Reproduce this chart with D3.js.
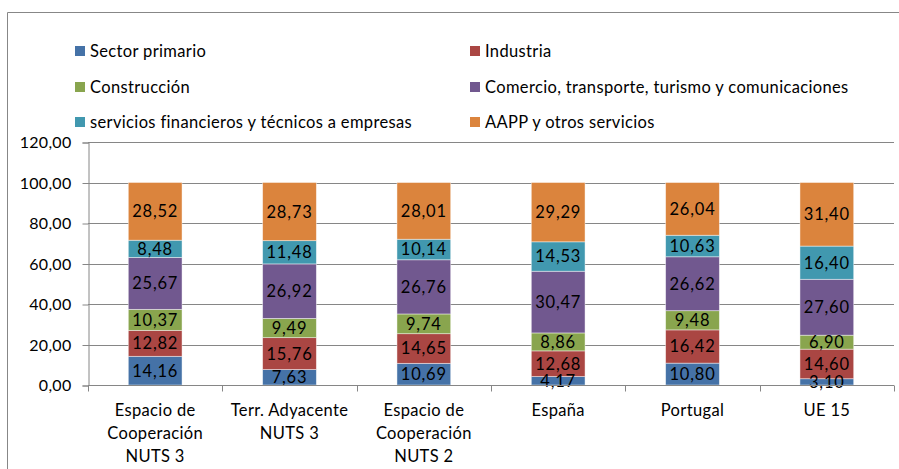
<!DOCTYPE html>
<html><head><meta charset="utf-8">
<script src="https://cdn.jsdelivr.net/npm/d3@7"></script>
<style>body{margin:0;background:#fff}svg{display:block;font-family:Lato,"Open Sans",sans-serif}</style>
</head><body>
<script>
const categories = [["Espacio de","Cooperación","NUTS 3"],["Terr. Adyacente","NUTS 3"],["Espacio de","Cooperación","NUTS 2"],["España"],["Portugal"],["UE 15"]];
const seriesNames = ["Sector primario","Industria","Construcción","Comercio, transporte, turismo y comunicaciones","servicios financieros y técnicos a empresas","AAPP y otros servicios"];
const sectorPrimario = [14.16,7.63,10.69,4.17,10.80,3.10];
const industria = [12.82,15.76,14.65,12.68,16.42,14.60];
const construccion = [10.37,9.49,9.74,8.86,9.48,6.90];
const comercio = [25.67,26.92,26.76,30.47,26.62,27.60];
const servicios = [8.48,11.48,10.14,14.53,10.63,16.40];
const aapp = [28.52,28.73,28.01,29.29,26.04,31.40];
const yTicks = [0,20,40,60,80,100,120];
const colors = ["#4572A7","#AA4643","#89A54E","#71588F","#4198AF","#DB843D"];

const W=899,H=469;
const svg=d3.select("body").append("svg").attr("width",W).attr("height",H);
// outer frame
svg.append("path").attr("d","M7.5,469 V12.5 H899").attr("fill","none").attr("stroke","#878787").attr("stroke-width",1);

const x=d3.scaleBand().domain(d3.range(categories.length)).range([88,894]).paddingInner(0.6).paddingOuter(0.3);
const y=d3.scaleLinear().domain([0,120]).range([385,142]);
const grid="#868686";
// gridlines
svg.append("g").selectAll("line").data(yTicks.filter(d=>d>0)).join("line")
 .attr("x1",88).attr("x2",894).attr("y1",d=>Math.round(y(d))+0.5).attr("y2",d=>Math.round(y(d))+0.5)
 .attr("stroke",grid).attr("stroke-width",1);
// y axis
const yAxis=svg.append("g").attr("transform","translate(88.5,0.5)")
 .call(d3.axisLeft(y).tickValues(yTicks).tickSize(6).tickPadding(11).tickFormat(d=>d3.format(".2f")(d).replace(".",",")));
yAxis.select(".domain").attr("stroke",grid);
yAxis.selectAll(".tick line").attr("stroke",grid);
yAxis.selectAll("text").attr("font-size",16).attr("letter-spacing",0.3).attr("fill","#000").attr("font-family","Lato");

// stacked bars
const keys=d3.range(6);
const vals=[sectorPrimario,industria,construccion,comercio,servicios,aapp];
const rows=categories.map((c,i)=>{const o={i};keys.forEach(k=>o[k]=vals[k][i]);return o;});
const stack=d3.stack().keys(keys)(rows);
const layers=svg.append("g").selectAll("g").data(stack).join("g").attr("fill",(d,i)=>colors[i]);
layers.selectAll("rect").data(d=>d).join("rect")
 .attr("x",d=>x(d.data.i)).attr("width",x.bandwidth())
 .attr("y",d=>y(d[1])).attr("height",d=>y(d[0])-y(d[1]))
 .attr("stroke","rgba(255,255,255,0.55)").attr("stroke-width",0.8);
const lab=svg.append("g");
stack.forEach((s,k)=>{
 lab.selectAll(null).data(s).join("text")
  .attr("x",d=>x(d.data.i)+x.bandwidth()/2).attr("y",d=>(y(d[0])+y(d[1]))/2)
  .attr("dy","0.36em").attr("text-anchor","middle").attr("font-size",16.5).attr("letter-spacing",0.8).attr("fill","#000")
  .text(d=>d3.format(".2f")(d[1]-d[0]).replace(".",","));
});

// x axis
const xa=svg.append("g").attr("transform","translate(0,385.5)");
xa.append("line").attr("x1",88).attr("x2",894).attr("stroke",grid);
const bounds=d3.range(categories.length+1).map(i=>88+i*x.step());
xa.selectAll("line.t").data(bounds).join("line").attr("class","t")
 .attr("x1",d=>Math.round(d)+0.5).attr("x2",d=>Math.round(d)+0.5).attr("y1",0).attr("y2",6).attr("stroke",grid);
categories.forEach((lines,i)=>{
 const t=xa.append("text").attr("text-anchor","middle").attr("font-size",16.5).attr("letter-spacing",0.35).attr("fill","#000");
 lines.forEach((l,j)=>t.append("tspan").attr("x",x(i)+x.bandwidth()/2).attr("y",30+j*23).text(l));
});

// legend
const legPos=[[75,51],[470,51],[75,87],[470,87],[75,122],[470,122]];
const lg=svg.append("g");
seriesNames.forEach((n,i)=>{
 const [lx,ly]=legPos[i];
 lg.append("rect").attr("x",lx).attr("y",ly-5).attr("width",10).attr("height",10).attr("fill",colors[i]);
 lg.append("text").attr("x",lx+15).attr("y",ly).attr("dy","0.36em").attr("font-size",16.5).attr("letter-spacing",0.35).attr("fill","#000").text(n);
});
</script>
</body></html>
